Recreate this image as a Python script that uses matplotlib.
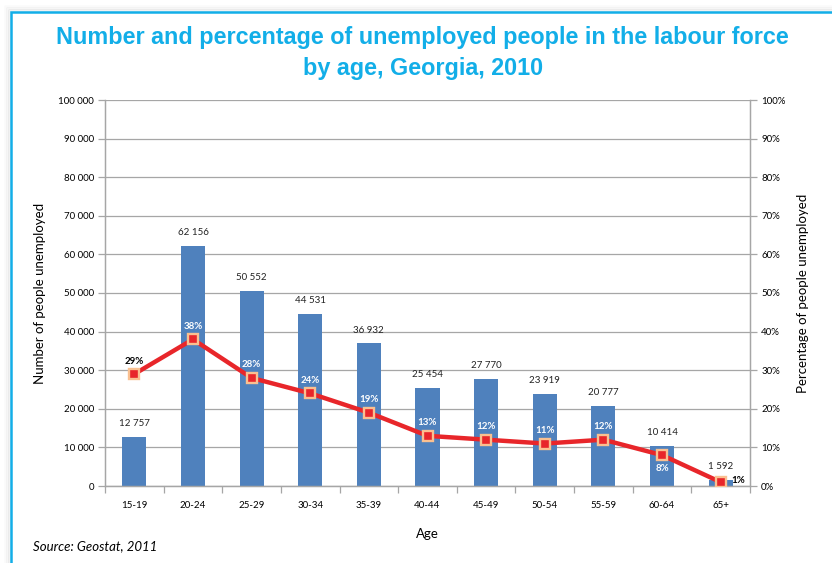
import matplotlib.pyplot as plt
from matplotlib.lines import Line2D
from matplotlib.ticker import FuncFormatter, MultipleLocator

age_groups = ["15-19", "20-24", "25-29", "30-34", "35-39", "40-44",
              "45-49", "50-54", "55-59", "60-64", "65+"]
unemployed = [12757, 62156, 50552, 44531, 36932, 25454,
              27770, 23919, 20777, 10414, 1592]
unemployed_pct = [29, 38, 28, 24, 19, 13, 12, 11, 12, 8, 1]

TITLE_BLUE = "#12aee8"
BAR_BLUE = "#4f81bd"
LINE_RED = "#e8262a"
GRID_GREY = "#a6a6a6"
BODY_FONT = ["Lato", "DejaVu Sans"]
SMALL = 7

fig = plt.figure(figsize=(8.32, 5.63), dpi=100)

# soft drop shadow and the blue frame (only left and top edges fall inside the page)
fx0, fy1 = 11 / 832, 1 - 12 / 563
for i, a in enumerate([0.05, 0.035, 0.02]):
    off = (i + 1) * 2
    fig.add_artist(Line2D([fx0 - off / 832, fx0 - off / 832, 1.0], [0, fy1 + off / 563, fy1 + off / 563],
                          transform=fig.transFigure, color="black", alpha=a, linewidth=2))
fig.add_artist(Line2D([fx0, fx0, 1.0], [0, fy1, fy1], transform=fig.transFigure,
                      color=TITLE_BLUE, linewidth=1.8, solid_joinstyle="miter"))

fig.text(0.508, 1 - 53 / 563, "Number and percentage of unemployed people in the labour force\nby age, Georgia, 2010",
         ha="center", va="center", color=TITLE_BLUE, fontsize=16.8, fontweight="bold",
         family=["Liberation Sans Narrow", "Liberation Sans"], linespacing=1.45)

ax = fig.add_axes([105 / 832, 1 - 486 / 563, 645 / 832, 386 / 563])
ax2 = ax.twinx()

x = list(range(len(age_groups)))
ax.bar(x, unemployed, width=0.41, color=BAR_BLUE, zorder=2)
for xi, v in zip(x, unemployed):
    ax.text(xi, v + 2300, f"{v:,}".replace(",", " "), ha="center", va="bottom",
            fontsize=SMALL, family=BODY_FONT, color="#222222")

ax.set_xlim(-0.5, len(age_groups) - 0.5)
ax.set_ylim(0, 100000)
ax.yaxis.set_major_locator(MultipleLocator(10000))
ax.yaxis.set_major_formatter(FuncFormatter(lambda v, _: f"{int(v):,}".replace(",", " ")))
ax.grid(axis="y", color=GRID_GREY, linewidth=0.9, zorder=0)
ax.set_axisbelow(True)

ax.set_xticks(x)
ax.set_xticklabels(age_groups)
ax.set_xticks([i - 0.5 for i in range(len(age_groups) + 1)], minor=True)
ax.tick_params(axis="x", which="major", length=0, pad=11, labelsize=SMALL)
ax.tick_params(axis="x", which="minor", length=5, color=GRID_GREY, width=0.9)
ax.tick_params(axis="y", length=5, color=GRID_GREY, width=0.9, labelsize=SMALL, pad=3)

# percentage series on the secondary axis
ax2.set_ylim(0, 100)
ax2.yaxis.set_major_locator(MultipleLocator(10))
ax2.yaxis.set_major_formatter(FuncFormatter(lambda v, _: f"{int(v)}%"))
ax2.tick_params(axis="y", length=5, color=GRID_GREY, width=0.9, labelsize=SMALL, pad=3)
ax2.plot(x, unemployed_pct, color=LINE_RED, linewidth=3.2, marker="s", markersize=7.5,
         markerfacecolor=LINE_RED, markeredgecolor="#fac090", markeredgewidth=1.7,
         zorder=3, solid_joinstyle="round")

for xi, p in zip(x, unemployed_pct):
    if xi == 0:
        ax2.text(xi, p + 2.2, f"{p}%", ha="center", va="bottom", fontsize=SMALL,
                 fontweight="bold", color="black", family=BODY_FONT)
    elif xi == len(x) - 1:
        ax2.text(xi + 0.18, p + 0.5, f"{p}%", ha="left", va="center", fontsize=SMALL,
                 fontweight="bold", color="black", family=BODY_FONT)
    elif p == 8:
        ax2.text(xi, p - 2.2, f"{p}%", ha="center", va="top", fontsize=SMALL,
                 fontweight="bold", color="white", family=BODY_FONT)
    else:
        ax2.text(xi, p + 2.2, f"{p}%", ha="center", va="bottom", fontsize=SMALL,
                 fontweight="bold", color="white", family=BODY_FONT)

for a in (ax, ax2):
    a.spines["top"].set_visible(False)
    for side in ("left", "right", "bottom"):
        a.spines[side].set_color(GRID_GREY)
        a.spines[side].set_linewidth(0.9)
    for lbl in a.get_xticklabels() + a.get_yticklabels():
        lbl.set_family(BODY_FONT)

ax.set_ylabel("Number of people unemployed", fontsize=9.5, family=BODY_FONT, labelpad=9)
ax2.set_ylabel("Percentage of people unemployed", fontsize=9.5, family=BODY_FONT, labelpad=8)
ax.set_xlabel("Age", fontsize=9.5, family=BODY_FONT, labelpad=13)

fig.text(33 / 832, 1 - 546 / 563, "Source: Geostat, 2011", fontsize=9.5, style="italic",
         family=BODY_FONT, va="center", ha="left")

fig.savefig("out.png", dpi=100)
